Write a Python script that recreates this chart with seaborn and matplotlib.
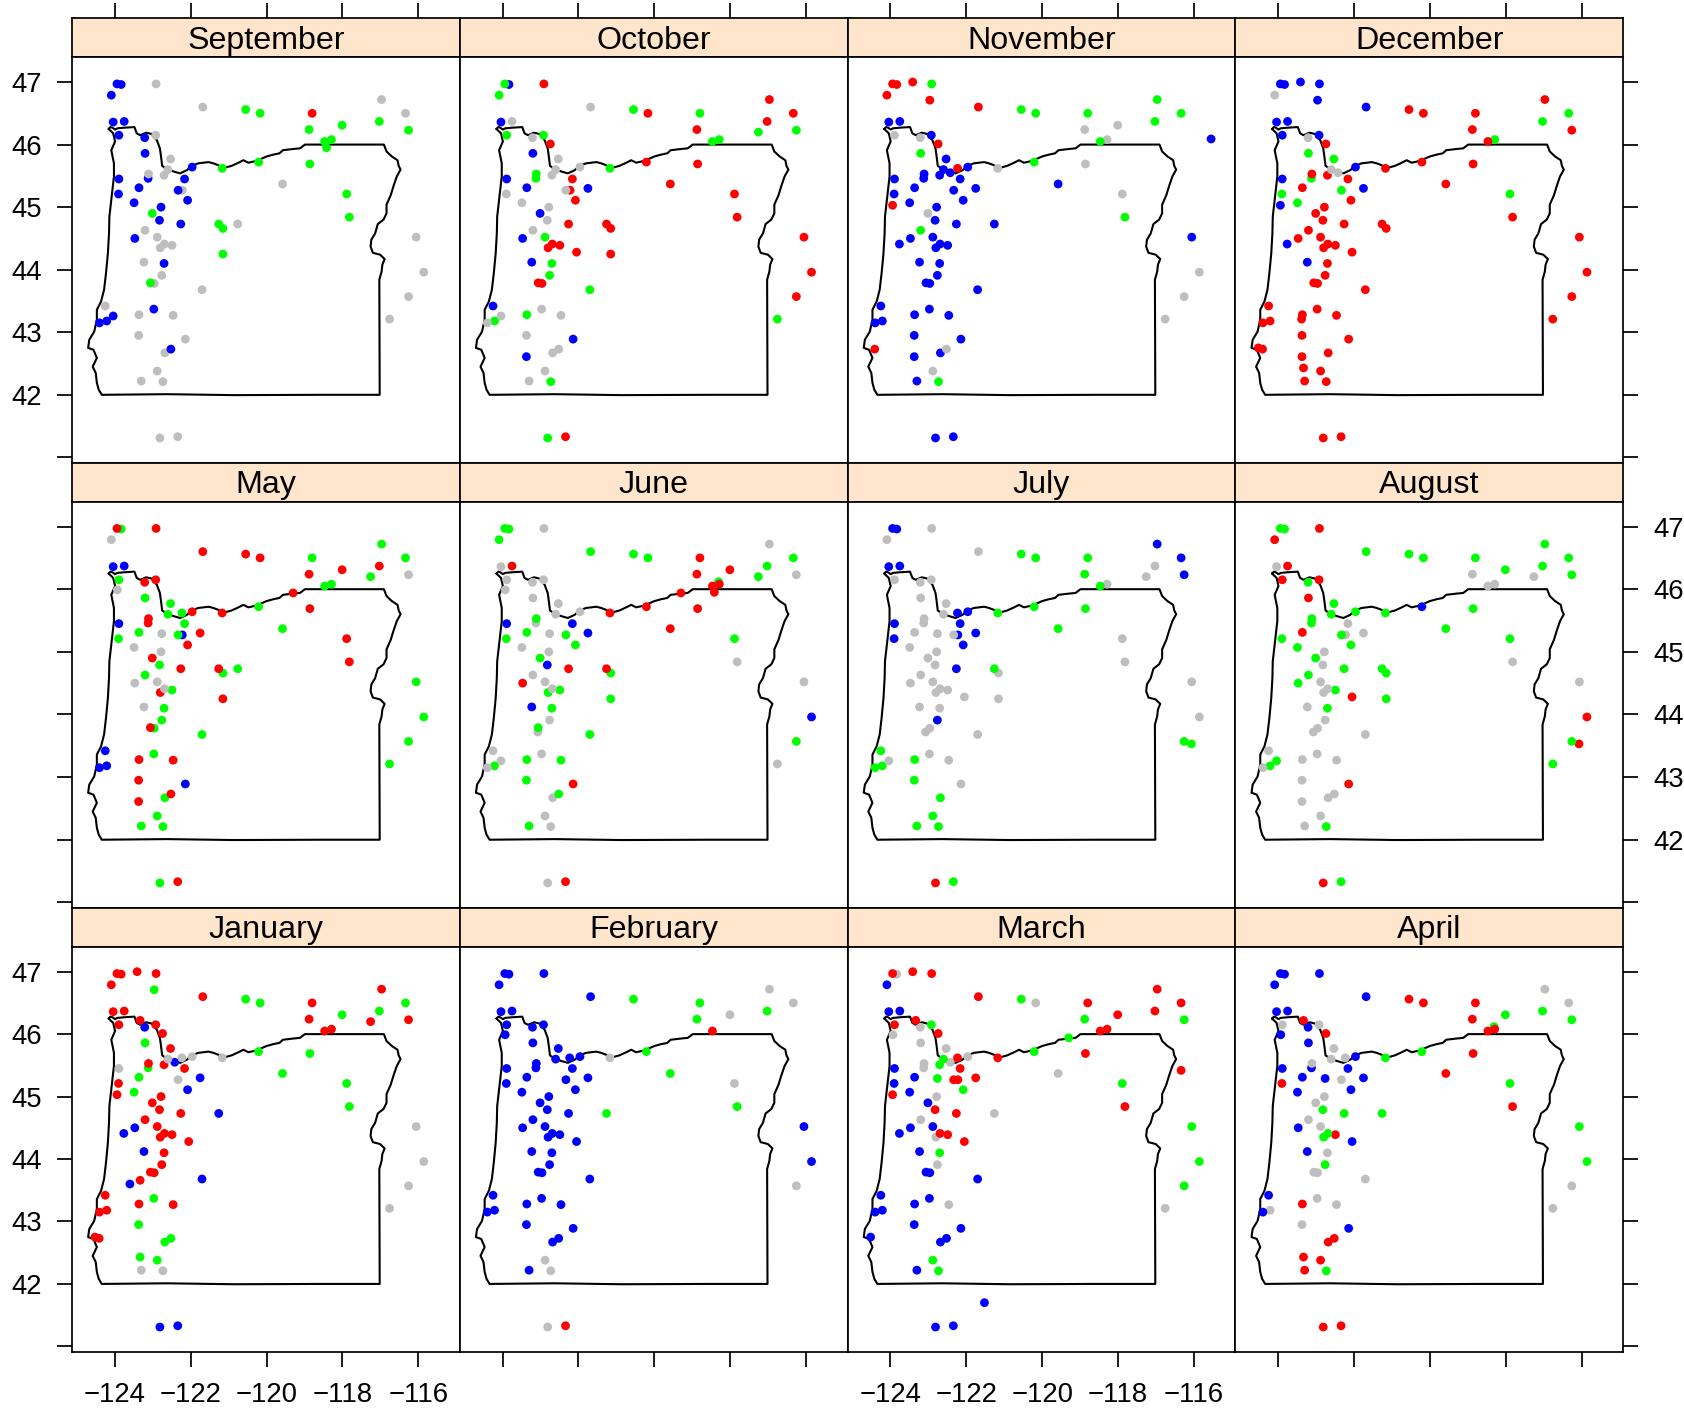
import matplotlib
matplotlib.use("Agg")
import matplotlib.pyplot as plt
import pandas as pd
import seaborn as sns

# Station coordinates (id = list position)
station_lon = [-124.09,-123.94,-123.83,-123.41,-122.91,-122.96,-121.68,-120.55,-120.17,-118.80,
 -118.88,-118.01,-116.97,-117.03,-116.34,-116.26,-117.26,-115.55,-124.04,-123.75,
 -123.89,-123.33,-123.21,-122.92,-122.74,-123.93,-118.47,-118.29,-118.42,-119.30,
 -123.20,-122.53,-120.21,-121.17,-118.86,-121.96,-122.23,-122.60,-123.11,-123.12,
 -122.70,-122.42,-122.16,-123.89,-123.36,-121.75,-122.76,-122.33,-122.22,-122.08,
 -123.90,-123.49,-123.94,-122.78,-123.01,-122.82,-122.26,-121.26,-121.15,-120.76,
 -119.58,-117.89,-117.82,-123.20,-122.88,-123.47,-123.76,-122.69,-122.80,-122.49,
 -122.05,-121.15,-123.23,-122.70,-122.76,-123.06,-122.96,-123.07,-121.70,-123.33,
 -123.60,-124.25,-124.04,-123.36,-122.97,-122.46,-124.40,-124.21,-123.38,-123.37,
 -122.14,-122.52,-122.68,-124.41,-124.52,-123.37,-123.33,-122.88,-123.30,-122.73,
 -122.81,-122.34,-121.52,-116.34,-116.06,-115.86,-116.26,-116.76,-116.07,-118.31]
station_lat = [46.79,46.97,46.96,47.00,46.97,46.71,46.60,46.56,46.50,46.50,
 46.24,46.31,46.72,46.37,46.50,46.23,46.20,46.09,46.36,46.37,
 46.15,46.22,46.11,46.15,46.01,45.99,46.05,46.08,45.95,45.94,
 45.86,45.77,45.72,45.62,45.69,45.64,45.62,45.60,45.53,45.46,
 45.51,45.55,45.45,45.45,45.31,45.30,45.29,45.27,45.27,45.11,
 45.21,45.07,45.03,45.00,44.90,44.79,44.73,44.73,44.66,44.73,
 45.37,45.21,44.84,44.63,44.52,44.50,44.41,44.41,44.35,44.39,
 44.28,44.25,44.12,44.10,43.91,43.79,43.78,43.72,43.68,43.66,
 43.60,43.42,43.26,43.28,43.37,43.27,43.15,43.18,43.21,42.95,
 42.89,42.73,42.67,42.73,42.75,42.61,42.43,42.38,42.22,42.21,
 41.31,41.33,41.70,45.42,44.52,43.96,43.57,43.21,43.53,46.12]

oregon_lon = [-124.16,-124.11,-124.06,-123.99,-123.93,-123.75,-123.48,-123.42,-123.33,-123.17,-123.03,
 -122.89,-122.81,-122.78,-122.75,-122.63,-122.45,-122.28,-122.10,-121.97,-121.80,-121.53,-121.40,
 -121.27,-121.16,-120.92,-120.74,-120.61,-120.48,-120.26,-120.00,-119.82,-119.66,-119.57,-119.29,
 -119.12,-118.99,-116.91,-116.84,-116.70,-116.55,-116.52,-116.47,-116.57,-116.66,-116.73,-116.84,
 -116.84,-116.92,-117.07,-117.14,-117.24,-117.26,-117.20,-117.01,-116.89,-116.95,-116.97,-117.03,
 -117.02,-118.59,-120.87,-122.63,-124.34,-124.42,-124.47,-124.50,-124.58,-124.47,-124.56,-124.70,
 -124.67,-124.54,-124.47,-124.47,-124.36,-124.28,-124.23,-124.18,-124.15,-124.14,-124.08,-124.02,
 -124.02,-124.09,-123.99,-124.04,-124.16]
oregon_lat = [46.25,46.28,46.27,46.24,46.26,46.27,46.28,46.18,46.15,46.19,46.17,
 46.07,45.94,45.81,45.66,45.61,45.57,45.54,45.59,45.66,45.70,45.72,45.70,
 45.67,45.62,45.66,45.71,45.75,45.71,45.74,45.81,45.84,45.86,45.91,45.93,
 45.94,46.00,46.00,45.89,45.81,45.75,45.66,45.60,45.49,45.33,45.19,45.04,
 44.90,44.80,44.73,44.58,44.48,44.37,44.27,44.24,44.17,44.08,43.97,43.84,
 42.00,42.00,41.995,42.01,42.00,42.08,42.19,42.35,42.45,42.59,42.72,42.75,
 42.88,43.01,43.20,43.36,43.49,43.68,43.94,44.26,44.58,44.85,45.17,45.49,
 45.70,45.91,46.05,46.18,46.25]

# Station ids in each colour class, per month
sep_blue = [0,1,2,18,19,20,22,30,35,43,39,44,42,47,49,51,50,53,55,56,65,73,84,82,87,86,91]
sep_gray = [4,6,12,14,23,31,38,40,37,48,60,59,63,64,67,68,69,72,74,76,78,81,83,85,89,90,92,97,98,99,100,101,104,105,106,107]
sep_green = [7,8,10,11,13,15,26,27,28,32,33,34,54,57,58,71,61,62,75]
sep_red = [9]

oct_blue = [2,18,30,43,44,45,54,65,72,81,90,95]
oct_green = [1,0,20,23,38,39,7,9,26,27,16,15,33,64,73,74,78,83,87,99,100,107]
oct_red = [4,8,10,12,13,14,24,42,48,49,32,34,60,61,62,56,57,58,67,68,69,70,71,75,76,101,104,105,106]
oct_gray = [6,19,22,31,37,35,40,47,50,51,53,55,63,84,82,86,85,89,91,92,97,98]

nov_red = [1,2,3,0,5,6,24,36,52,93]
nov_green = [4,7,8,9,12,14,13,26,32,30,63,62,99]
nov_gray = [20,22,10,11,27,34,61,33,54,91,97,105,106,107]
nov_blue = [18,19,23,31,35,37,38,39,40,41,42,43,44,45,47,49,50,51,53,55,56,57,65,66,64,67,68,69,72,73,74,75,76,78,81,84,83,85,87,86,89,90,92,95,98,100,101,60,17,104]

dec_blue = [1,2,3,4,5,6,18,19,20,23,35,43,45,52,66,72]
dec_gray = [0,22,37,41]
dec_green = [14,13,27,30,31,39,47,50,51,61]
dec_red = [7,8,9,12,10,15,26,24,32,33,34,60,38,40,42,44,49,53,54,55,56,57,58,63,65,64,67,68,69,70,73,74,75,76,78,81,84,83,88,85,86,87,89,90,94,93,92,95,96,97,98,99,100,101,62,104,105,106,107]

may_red = [1,4,6,7,8,13,11,10,22,23,29,35,33,34,38,39,45,49,61,62,54,56,57,68,71,75,83,85,89,91,95,101]
may_green = [2,9,12,14,16,26,27,20,30,31,37,36,42,32,60,44,47,50,55,63,58,59,69,73,74,76,78,84,92,97,98,99,100,104,105,106,107]
may_blue = [18,19,43,48,81,86,87,90]
may_gray = [0,15,25,46,51,53,65,64,67,72]

jun_green = [1,2,0,6,7,8,14,13,16,109,38,44,47,49,50,54,61,58,69,68,71,73,75,78,83,85,87,89,91,98,106]
jun_gray = [4,12,18,15,20,23,25,22,30,31,37,35,39,46,51,53,63,64,67,74,77,81,82,86,84,92,97,99,100,62,104,107]
jun_red = [19,9,11,10,26,27,28,29,33,32,34,60,56,57,65,90,101]
jun_blue = [43,42,45,55,72,105]

jul_blue = [1,2,12,14,15,18,19,36,35,42,43,45,48,49,50,56,74]
jul_green = [7,8,9,10,26,32,33,34,60,57,81,83,87,86,89,92,97,98,99,101,106,108]
jul_red = [100]
jul_gray = [0,4,6,13,16,27,20,23,22,30,31,37,38,39,44,46,47,51,53,54,55,63,65,64,67,68,69,70,58,71,72,73,77,76,78,84,82,85,90,61,62,104,105]

aug_red = [0,4,19,20,23,30,44,70,90,100,105,108]
aug_green = [1,2,22,6,7,8,9,11,12,13,14,15,31,37,35,33,34,60,38,39,47,50,51,49,54,61,56,57,58,63,65,69,71,73,87,82,99,101,106,107]
aug_blue = [32]
aug_gray = [18,10,27,26,16,42,45,48,53,55,62,64,67,68,72,74,76,77,78,81,86,83,84,85,89,91,92,95,97,98,104]

jan_red = [1,2,3,4,0,6,18,19,21,20,23,24,31,9,10,12,16,15,26,27,38,40,42,50,52,53,54,55,56,63,64,67,68,69,70,73,74,75,76,79,81,86,87,83,85,94,93]
jan_green = [5,7,8,11,13,14,30,32,34,39,44,60,51,61,62,84,89,91,92,96,97]
jan_blue = [22,41,45,49,57,65,66,72,80,78,100,101]
jan_gray = [43,36,35,33,47,37,98,99,104,105,106,107]

feb_blue = [1,2,0,4,6,18,19,20,23,25,22,30,31,37,36,35,38,39,42,43,44,45,47,49,50,51,53,54,55,56,63,64,65,67,68,69,70,72,73,74,75,76,78,81,84,83,85,86,87,89,90,91,92,98,104,105]
feb_green = [7,9,10,13,32,60,57,62]
feb_gray = [12,14,11,61,33,97,99,100,106]
feb_red = [26,101]

mar_red = [1,3,4,6,9,12,14,13,11,26,27,21,20,24,36,33,34,42,45,47,48,52,55,56,67,69,70,62,103]
mar_green = [7,10,15,23,29,32,37,40,46,49,61,73,97,99,104,105,106]
mar_blue = [0,18,19,43,44,50,51,54,65,64,66,72,75,76,78,81,84,83,87,86,89,90,94,91,92,98,102,100,101]
mar_gray = [2,8,25,22,30,31,41,35,38,39,60,53,63,57,68,74,85,107]

apr_blue = [1,2,4,0,6,18,19,25,22,30,35,39,43,44,46,42,45,49,51,65,70,72,81,86,90]
apr_red = [7,8,9,10,26,27,21,24,34,60,50,62,69,83,91,92,96,97,98,100,101]
apr_green = [13,15,11,109,32,33,61,55,56,57,67,68,74,99,104,105]
apr_gray = [12,14,20,23,31,37,36,38,47,53,54,63,64,73,75,76,78,84,87,85,89,106,107]

months = ["September","October","November","December",
          "May","June","July","August",
          "January","February","March","April"]
month_sets = [
 (sep_red,sep_green,sep_blue,sep_gray),(oct_red,oct_green,oct_blue,oct_gray),
 (nov_red,nov_green,nov_blue,nov_gray),(dec_red,dec_green,dec_blue,dec_gray),
 (may_red,may_green,may_blue,may_gray),(jun_red,jun_green,jun_blue,jun_gray),
 (jul_red,jul_green,jul_blue,jul_gray),(aug_red,aug_green,aug_blue,aug_gray),
 (jan_red,jan_green,jan_blue,jan_gray),(feb_red,feb_green,feb_blue,feb_gray),
 (mar_red,mar_green,mar_blue,mar_gray),(apr_red,apr_green,apr_blue,apr_gray)]
classes = ["red","green","blue","gray"]
palette = {"red":"#FF0000","green":"#00FF00","blue":"#0000FF","gray":"#BEBEBE"}

x_ticks = [-124,-122,-120,-118,-116]
y_ticks = [41,42,43,44,45,46,47]

sns.set_style("white")
plt.rcParams["font.family"] = ["Liberation Sans","DejaVu Sans"]
plt.rcParams["axes.linewidth"] = 1.25

W, H = 1684, 1408
fig = plt.figure(figsize=(W/100, H/100), dpi=100, facecolor="white")

col_x = [72, 459.8, 847.6, 1235.4, 1623]
strip_top = [18, 463, 908]
strip_bot = [57, 501.5, 946.7]
panel_bot = [463, 908, 1352]
xlim = (-125.125, -114.91)
TL = 10.8
PAD = 11
TICK_W = 1.25
LABEL_SIZE = 19.8

def axpx(x0, ytop, x1, ybot, **kw):
    return fig.add_axes([x0/W, 1-ybot/H, (x1-x0)/W, (ybot-ytop)/H], **kw)

for i, month in enumerate(months):
    r, c = divmod(i, 4)
    x0, x1 = col_x[c], col_x[c+1]
    # strip
    sax = axpx(x0, strip_top[r], x1, strip_bot[r], facecolor="#FFE5CC")
    sax.set_xlim(xlim)
    sax.set_yticks([])
    if r == 0:
        sax.xaxis.tick_top()
        sax.set_xticks(x_ticks)
        sax.tick_params(axis="x", direction="out", length=TL, width=TICK_W, labeltop=False, color="black")
    else:
        sax.set_xticks([])
    sax.text(0.5, 0.42, month, transform=sax.transAxes, ha="center", va="center",
             fontsize=23.2, color="black")
    for s in sax.spines.values():
        s.set_color("black")
    # panel
    ax = axpx(x0, strip_bot[r], x1, panel_bot[r], facecolor="white")
    rows = []
    for cls, ids in zip(classes, month_sets[i]):
        for k in ids:
            rows.append((k, station_lon[k], station_lat[k], cls))
    df = pd.DataFrame(rows, columns=["id","lon","lat","cls"]).sort_values("id", ascending=False)
    ax.plot(oregon_lon, oregon_lat, color="black", lw=1.5, zorder=2)
    sns.scatterplot(data=df, x="lon", y="lat", hue="cls", palette=palette, s=40,
                    linewidth=0, legend=False, ax=ax, zorder=3, clip_on=True)
    ax.set_xlim(xlim)
    ax.set_ylim(40.91, 47.4)
    ax.set_xlabel("")
    ax.set_ylabel("")
    for s in ax.spines.values():
        s.set_color("black")
    # x axis
    if r == 2:
        ax.set_xticks(x_ticks)
        if c in (0, 2):
            ax.set_xticklabels(["\u2212%d" % abs(t) for t in x_ticks])
        else:
            ax.set_xticklabels([])
        ax.tick_params(axis="x", direction="out", bottom=True, length=TL, width=TICK_W,
                       pad=PAD, labelsize=LABEL_SIZE, color="black", labelcolor="black")
    else:
        ax.set_xticks([])
    # y axis
    ylabels = [""] + [str(t) for t in y_ticks[1:]]
    if c == 0 or c == 3:
        ax.set_yticks(y_ticks)
        ax.set_yticklabels([])
        side_left = c == 0
        show = (c == 0 and r in (0, 2)) or (c == 3 and r == 1)
        if show:
            ax.set_yticklabels(ylabels)
        ax.tick_params(axis="y", direction="out", left=side_left, right=not side_left,
                       labelleft=side_left and show, labelright=(not side_left) and show,
                       length=TL, width=TICK_W, pad=PAD, labelsize=LABEL_SIZE,
                       color="black", labelcolor="black")
    else:
        ax.set_yticks([])

fig.savefig("out.png", dpi=100, facecolor="white")
